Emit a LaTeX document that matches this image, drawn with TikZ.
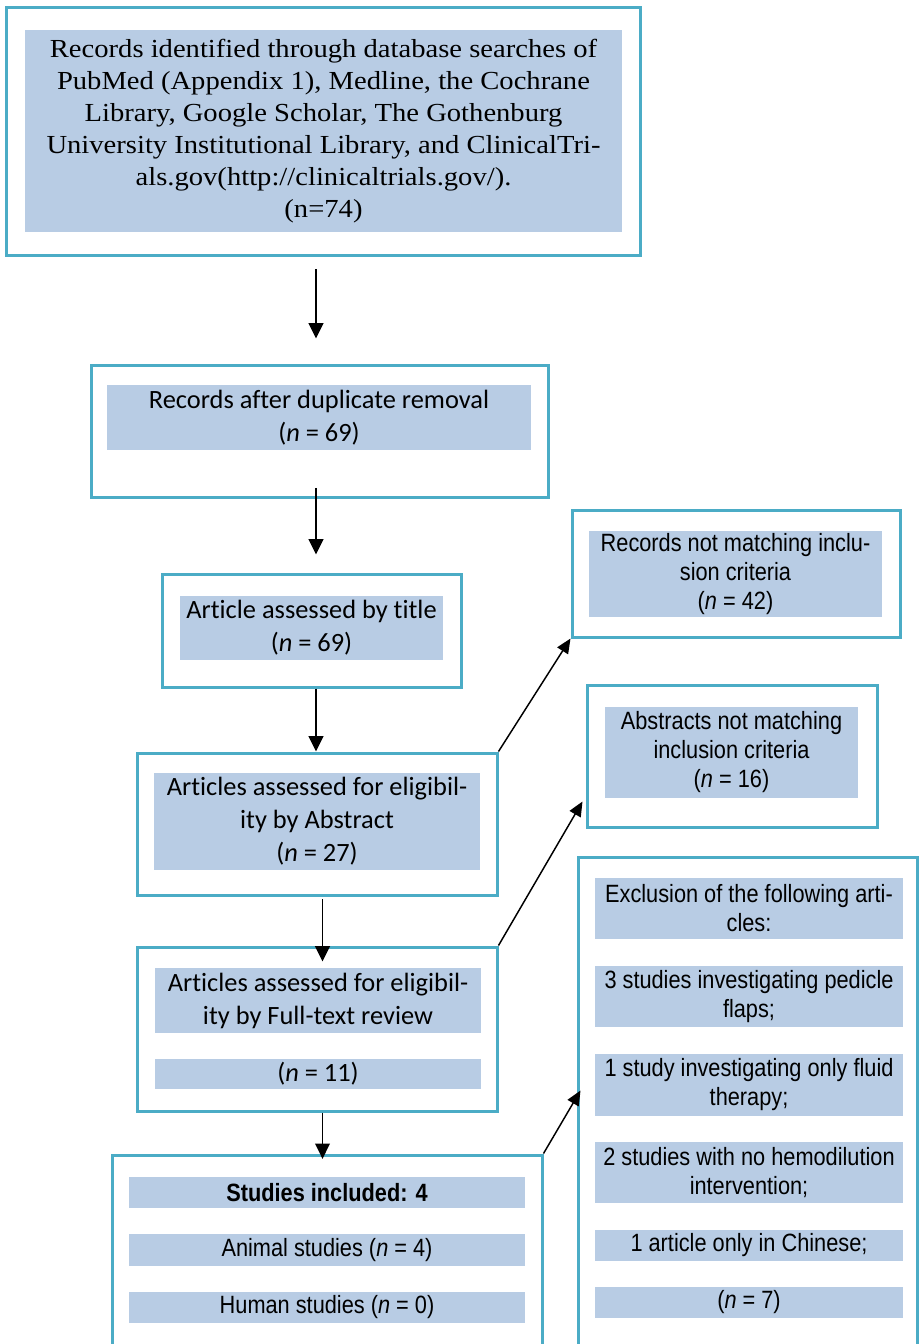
\documentclass[tikz,border=0pt]{standalone}
\usepackage{fontspec}
\setmainfont{Liberation Serif}
\newfontfamily\calfont[Ligatures={NoCommon}]{Carlito}
\newfontfamily\arfont[FakeStretch=0.87]{Liberation Sans}
\newfontfamily\serfont[FakeStretch=1.1]{Liberation Serif}
\usetikzlibrary{fit,arrows.meta,calc}
\definecolor{bordc}{HTML}{4BACC6}
\definecolor{fillc}{HTML}{B8CCE4}
\tikzset{
 obox/.style={draw=bordc, line width=2.25pt, inner sep=0pt},
 fbox/.style={fill=fillc, inner sep=0pt},
 caltext/.style={font=\calfont\fontsize{19.8}{24.75}\selectfont, align=center, inner sep=0pt},
 artext/.style={font=\arfont\fontsize{18.75}{21.75}\selectfont, align=center, inner sep=0pt},
 sertext/.style={font=\serfont\fontsize{19.5}{24}\selectfont, align=center, inner sep=0pt},
 arr/.style={line width=1.4pt, -{Triangle[length=11.5pt,width=11pt]}},
 conn/.style={line width=1.1pt, -{Triangle[length=11pt,width=9.5pt]}},
}
\begin{document}
\begin{tikzpicture}[x=0.75pt,y=-0.75pt]
\clip (0,0) rectangle (921,1344);
\fill[white] (0,0) rectangle (921,1344);
\coordinate (xl) at (316,0);
\coordinate (xr) at (322.5,0);

% box 1
\node[obox, fit={(6,8)(640,256)}] (b1) {};
\node[fbox, fit={(25,30)(622,232)}] (f1) {};
\node[sertext] (t1) at (f1.center) {Records identified through database searches of\\PubMed (Appendix 1), Medline, the Cochrane\\Library, Google Scholar, The Gothenburg\\University Institutional Library, and ClinicalTri-\\als.gov(http://clinicaltrials.gov/).\\(n=74)};

% box 2
\node[obox, fit={(91,365)(548,497)}] (b2) {};
\node[fbox, fit={(107,385)(531,450)}] (f2) {};
\node[caltext] (t2) at (f2.center) {Records after duplicate removal\\(\textit{n} = 69)};

% box 3
\node[obox, fit={(162,574)(461,687)}] (b3) {};
\node[fbox, fit={(180,596)(443,660)}] (f3) {};
\node[caltext] (t3) at (f3.center) {Article assessed by title\\(\textit{n} = 69)};

% box 4
\node[obox, fit={(137,753)(497,895)}] (b4) {};
\node[fbox, fit={(154,773)(480,870)}] (f4) {};
\node[caltext] (t4) at (f4.center) {Articles assessed for eligibil-\\ity by Abstract\\(\textit{n} = 27)};

% box 5
\node[obox, fit={(137,947)(497,1111)}] (b5) {};
\node[fbox, fit={(155,968)(481,1033)}] (f5a) {};
\node[caltext] (t5a) at (f5a.center) {Articles assessed for eligibil-\\ity by Full-text review};
\node[fbox, fit={(155,1059)(481,1089)}] (f5b) {};
\node[caltext] (t5b) at (f5b.center) {(\textit{n} = 11)};

% box 6
\node[obox, fit={(112,1155)(542,1380)}] (b6) {};
\node[fbox, fit={(129,1177)(525,1208)}] (f6a) {};
\node[artext] (t6a) at (f6a.center) {\textbf{Studies included: 4}};
\node[fbox, fit={(129,1234)(525,1266)}] (f6b) {};
\node[artext] (t6b) at (f6b.center) {Animal studies (\textit{n} = 4)};
\node[fbox, fit={(129,1292)(525,1323)}] (f6c) {};
\node[artext] (t6c) at (f6c.center) {Human studies (\textit{n} = 0)};

% box 7
\node[obox, fit={(572,510)(900,637)}] (b7) {};
\node[fbox, fit={(589,531)(882,617)}] (f7) {};
\node[artext] (t7) at (f7.center) {Records not matching inclu-\\sion criteria\\(\textit{n} = 42)};

% box 8
\node[obox, fit={(587,685)(877,827)}] (b8) {};
\node[fbox, fit={(605,707)(858,798)}] (f8) {};
\node[artext] (t8) at (f8.center) {Abstracts not matching\\inclusion criteria\\(\textit{n} = 16)};

% box 9
\node[obox, fit={(578,857)(917,1380)}] (b9) {};
\node[fbox, fit={(595,878)(903,939)}] (f9a) {};
\node[artext] (t9a) at (f9a.center) {Exclusion of the following arti-\\cles:};
\node[fbox, fit={(595,966)(903,1027)}] (f9b) {};
\node[artext] (t9b) at (f9b.center) {3 studies investigating pedicle\\flaps;};
\node[fbox, fit={(595,1054)(903,1116)}] (f9c) {};
\node[artext] (t9c) at (f9c.center) {1 study investigating only fluid\\therapy;};
\node[fbox, fit={(595,1142)(903,1203)}] (f9d) {};
\node[artext] (t9d) at (f9d.center) {2 studies with no hemodilution\\intervention;};
\node[fbox, fit={(595,1230)(903,1261)}] (f9e) {};
\node[artext] (t9e) at (f9e.center) {1 article only in Chinese;};
\node[fbox, fit={(595,1287)(903,1318)}] (f9f) {};
\node[artext] (t9f) at (f9f.center) {(\textit{n} = 7)};

% vertical arrows
\draw[arr, shorten <=9pt, shorten >=18.75pt] (b1.south -| xl) -- (b2.north -| xl);
\draw[arr, shorten <=-8pt, shorten >=13.5pt] (b2.south -| xl) -- (b3.north -| xl);
\draw[arr] (b3.south -| xl) -- (b4.north -| xl);
\draw[arr, shorten <=2pt, shorten >=-12pt] (b4.south -| xr) -- (b5.north -| xr);
\draw[arr, shorten >=-4pt] (b5.south -| xr) -- (b6.north -| xr);

% diagonal arrows
\draw[conn] (b4.north east) -- (b7.south west);
\draw[conn] (b5.north east) -- ($(b8.north west)+(-3,118)$);
\draw[conn] (b6.north east) -- ($(b9.north west)+(4,235)$);
\end{tikzpicture}
\end{document}
